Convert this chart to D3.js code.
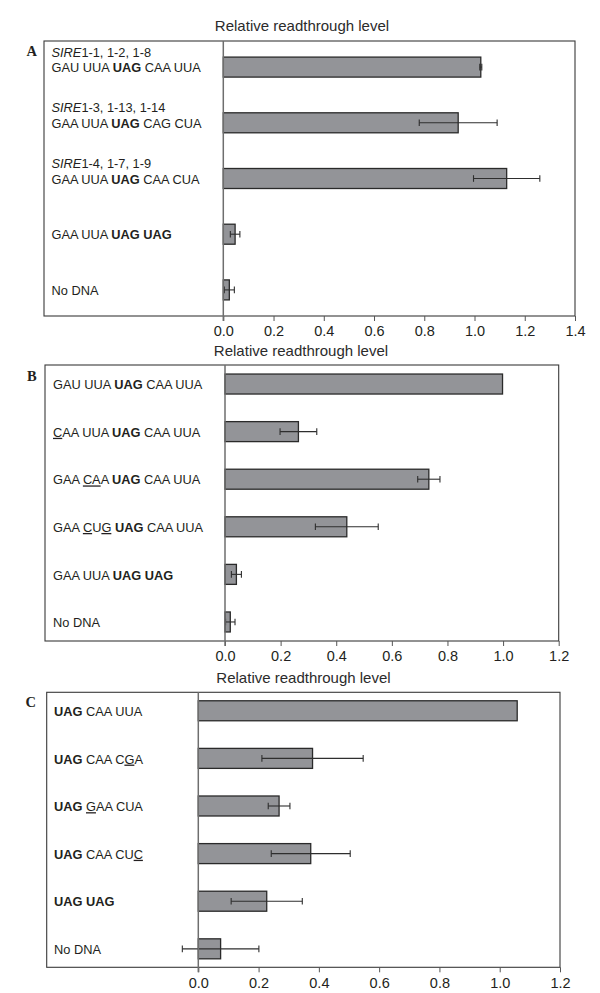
<!DOCTYPE html>
<html>
<head>
<meta charset="utf-8">
<script src="https://cdn.jsdelivr.net/npm/d3@7/dist/d3.min.js"></script>
<style>
  html, body { margin: 0; padding: 0; background: #fff; }
  svg { display: block; }
  text { font-family: "Liberation Sans", Arial, Helvetica, sans-serif; fill: #231f20; }
</style>
</head>
<body>
<svg id="chart" width="600" height="993"></svg>
<script>
// ---------------- DATA ----------------
const axisTitle = "Relative readthrough level";

const labelsA = [
  "<i>SIRE</i>1-1, 1-2, 1-8\nGAU UUA <b>UAG</b> CAA UUA",
  "<i>SIRE</i>1-3, 1-13, 1-14\nGAA UUA <b>UAG</b> CAG CUA",
  "<i>SIRE</i>1-4, 1-7, 1-9\nGAA UUA <b>UAG</b> CAA CUA",
  "GAA UUA <b>UAG UAG</b>",
  "No DNA"
];
const valuesA = [1.025, 0.935, 1.128, 0.047, 0.024];
const errorsA = [0.004, 0.155, 0.132, 0.019, 0.020];
const ticksA = [0.0, 0.2, 0.4, 0.6, 0.8, 1.0, 1.2, 1.4];

const labelsB = [
  "GAU UUA <b>UAG</b> CAA UUA",
  "<u>C</u>AA UUA <b>UAG</b> CAA UUA",
  "GAA <u>CA</u>A <b>UAG</b> CAA UUA",
  "GAA <u>C</u>U<u>G</u> <b>UAG</b> CAA UUA",
  "GAA UUA <b>UAG UAG</b>",
  "No DNA"
];
const valuesB = [0.998, 0.264, 0.733, 0.438, 0.041, 0.019];
const errorsB = [0.0, 0.066, 0.040, 0.113, 0.018, 0.017];
const ticksB = [0.0, 0.2, 0.4, 0.6, 0.8, 1.0, 1.2];

const labelsC = [
  "<b>UAG</b> CAA UUA",
  "<b>UAG</b> CAA C<u>G</u>A",
  "<b>UAG</b> <u>G</u>AA CUA",
  "<b>UAG</b> CAA CU<u>C</u>",
  "<b>UAG UAG</b>",
  "No DNA"
];
const valuesC = [1.058, 0.379, 0.268, 0.373, 0.227, 0.074];
const errorsC = [0.0, 0.168, 0.036, 0.131, 0.118, 0.127];
const ticksC = [0.0, 0.2, 0.4, 0.6, 0.8, 1.0, 1.2];

const panelLetters = ["A", "B", "C"];

// ---------------- LAYOUT ----------------
const svg = d3.select("#chart");

const panels = [
  { letter: panelLetters[0], labels: labelsA, values: valuesA, errors: errorsA, ticks: ticksA,
    box: [44, 41, 575, 316], zeroX: 223.3, titleX: 302, titleY: 30.5,
    padIn: 0.641, padOut: 0.289, letterX: 26.5, letterY: 56, labelX: 51.5 },
  { letter: panelLetters[1], labels: labelsB, values: valuesB, errors: errorsB, ticks: ticksB,
    box: [45, 365, 558.7, 641], zeroX: 225, titleX: 301, titleY: 356,
    padIn: 0.58, padOut: 0.19, letterX: 27, letterY: 381, labelX: 53 },
  { letter: panelLetters[2], labels: labelsC, values: valuesC, errors: errorsC, ticks: ticksC,
    box: [46.7, 692.3, 560, 967.3], zeroX: 198.3, titleX: 303.5, titleY: 682.5,
    padIn: 0.58, padOut: 0.178, letterX: 25.5, letterY: 707, labelX: 54 }
];

function parseSegments(line) {
  const parts = line.split(/(<[biu]>.*?<\/[biu]>)/).filter(s => s.length);
  return parts.map(p => {
    const m = p.match(/^<([biu])>(.*?)<\/[biu]>$/);
    return m ? { t: m[2], s: m[1] } : { t: p, s: null };
  });
}

panels.forEach(p => {
  const [x0, y0, x1, y1] = p.box;
  const xmax = p.ticks[p.ticks.length - 1];
  const g = svg.append("g");

  const x = d3.scaleLinear().domain([0, xmax]).range([p.zeroX, x1]);
  const y = d3.scaleBand()
    .domain(d3.range(p.values.length))
    .range([y0, y1])
    .paddingInner(p.padIn)
    .paddingOuter(p.padOut);

  // axis title
  g.append("text")
    .attr("x", p.titleX).attr("y", p.titleY)
    .attr("text-anchor", "middle")
    .style("font-size", "15px")
    .style("fill", "#2b2b2b")
    .text(axisTitle);

  // panel letter
  g.append("text")
    .attr("x", p.letterX).attr("y", p.letterY)
    .style("font-family", "'Liberation Serif', 'DejaVu Serif', serif")
    .style("font-weight", "bold")
    .style("font-size", "14.5px")
    .text(p.letter);

  // box
  g.append("rect")
    .attr("x", x0).attr("y", y0)
    .attr("width", x1 - x0).attr("height", y1 - y0)
    .attr("fill", "none")
    .attr("stroke", "#3a3a3a")
    .attr("stroke-width", 1.1);

  // bottom axis (ticks + labels)
  const axis = d3.axisBottom(x)
    .tickValues(p.ticks)
    .tickFormat(d3.format(".1f"))
    .tickSize(5)
    .tickPadding(5);
  const ax = g.append("g")
    .attr("transform", `translate(0,${y1})`)
    .call(axis);
  ax.select(".domain").remove();
  ax.selectAll(".tick line").attr("stroke", "#555").attr("stroke-width", 1);
  ax.selectAll(".tick text")
    .style("font-family", "'Liberation Sans', Arial, sans-serif")
    .style("font-size", "14.5px")
    .attr("fill", "#2b2b2b");

  // bars
  g.selectAll("rect.bar")
    .data(p.values)
    .join("rect")
    .attr("class", "bar")
    .attr("x", x(0))
    .attr("y", (d, i) => y(i))
    .attr("width", d => x(d) - x(0))
    .attr("height", y.bandwidth())
    .attr("fill", "#939498")
    .attr("stroke", "#2a2a2a")
    .attr("stroke-width", 1.3);

  // error bars
  const capH = 3.3;
  p.values.forEach((v, i) => {
    const e = p.errors[i];
    if (!e) return;
    const cy = y(i) + y.bandwidth() / 2;
    const eg = g.append("g").attr("stroke", "#2e2e2e").attr("stroke-width", 1.1);
    eg.append("line").attr("x1", x(v - e)).attr("x2", x(v + e)).attr("y1", cy).attr("y2", cy);
    eg.append("line").attr("x1", x(v - e)).attr("x2", x(v - e)).attr("y1", cy - capH).attr("y2", cy + capH);
    eg.append("line").attr("x1", x(v + e)).attr("x2", x(v + e)).attr("y1", cy - capH).attr("y2", cy + capH);
  });

  // zero line
  g.append("line")
    .attr("x1", x(0)).attr("x2", x(0))
    .attr("y1", y0).attr("y2", y1 + 5)
    .attr("stroke", "#6e6e6e")
    .attr("stroke-width", 1.5);

  // category labels
  p.labels.forEach((lab, i) => {
    const cy = y(i) + y.bandwidth() / 2;
    const lines = lab.split("\n");
    const baseLast = cy + 5.2;
    lines.forEach((ln, li) => {
      const by = baseLast - (lines.length - 1 - li) * 15.5;
      const t = g.append("text")
        .attr("x", p.labelX).attr("y", by)
        .style("font-size", "12.8px")
        .attr("fill", "#231f20");
      parseSegments(ln).forEach(seg => {
        const ts = t.append("tspan").text(seg.t);
        if (seg.s === "b") ts.style("font-weight", "bold");
        if (seg.s === "i") ts.style("font-style", "italic");
        if (seg.s === "u") ts.style("text-decoration", "underline");
      });
    });
  });
});
</script>
</body>
</html>
